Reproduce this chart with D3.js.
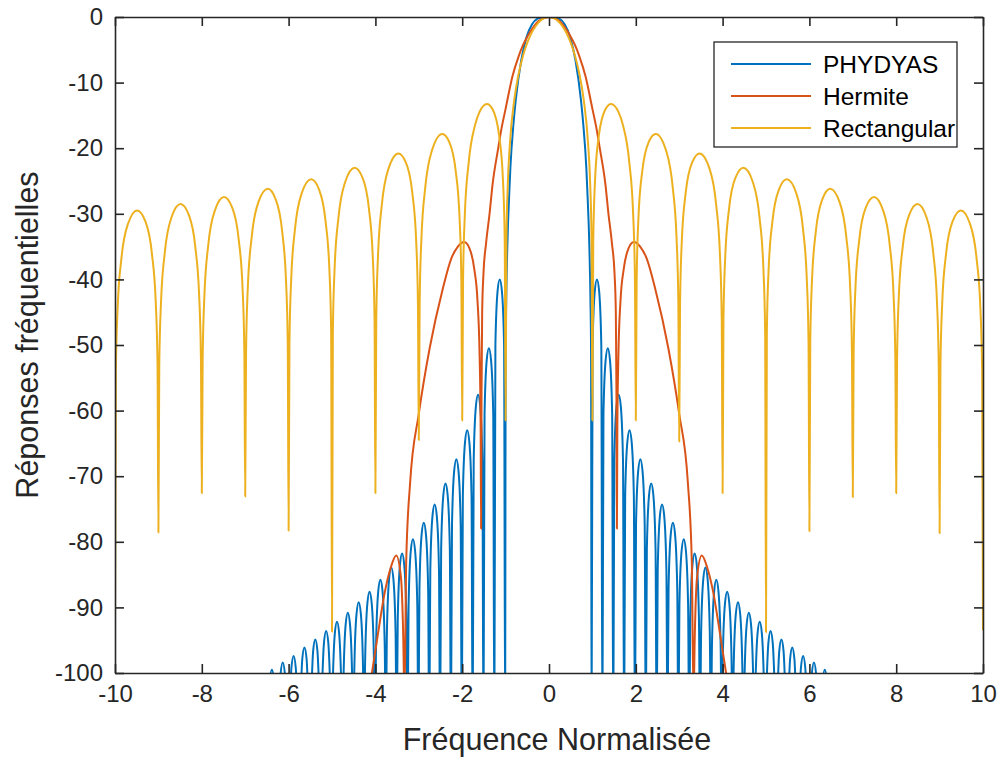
<!DOCTYPE html>
<html>
<head>
<meta charset="utf-8">
<script src="https://cdn.jsdelivr.net/npm/d3@7"></script>
<style>
  body { margin: 0; background: #fff; }
  text { font-family: "Liberation Sans", Arial, sans-serif; fill: #262626; }
</style>
</head>
<body>
<svg id="chart"></svg>
<script>
var xTicks = [-10, -8, -6, -4, -2, 0, 2, 4, 6, 8, 10];
var yTicks = [-100, -90, -80, -70, -60, -50, -40, -30, -20, -10, 0];
var seriesNames = ["PHYDYAS", "Hermite", "Rectangular"];

// [frequence normalisee, dB]; nulls go past the -100 floor
var phydyas = [
  [-6.51,-110],
  [-6.485,-109.5],[-6.435,-101.3],[-6.385,-99.5],[-6.335,-101.3],[-6.285,-109.5],[-6.26,-110],
  [-6.235,-108.4],[-6.185,-100.2],[-6.135,-98.4],[-6.085,-100.2],[-6.035,-108.4],[-6.01,-110],
  [-5.985,-107.4],[-5.935,-99.2],[-5.885,-97.4],[-5.835,-99.2],[-5.785,-107.4],[-5.76,-110],
  [-5.735,-106.1],[-5.685,-97.9],[-5.635,-96.1],[-5.585,-97.9],[-5.535,-106.1],[-5.51,-110],
  [-5.485,-104.9],[-5.435,-96.7],[-5.385,-94.9],[-5.335,-96.7],[-5.285,-104.9],[-5.26,-110],
  [-5.235,-103.6],[-5.185,-95.4],[-5.135,-93.6],[-5.085,-95.4],[-5.035,-103.6],[-5.01,-110],
  [-4.985,-102.2],[-4.935,-94.0],[-4.885,-92.2],[-4.835,-94.0],[-4.785,-102.2],[-4.76,-110],
  [-4.735,-100.8],[-4.685,-92.6],[-4.635,-90.8],[-4.585,-92.6],[-4.535,-100.8],[-4.51,-110],
  [-4.485,-99.2],[-4.435,-91.0],[-4.385,-89.2],[-4.335,-91.0],[-4.285,-99.2],[-4.26,-110],
  [-4.235,-97.6],[-4.185,-89.4],[-4.135,-87.6],[-4.085,-89.4],[-4.035,-97.6],[-4.01,-110],
  [-3.985,-95.8],[-3.935,-87.6],[-3.885,-85.8],[-3.835,-87.6],[-3.785,-95.8],[-3.76,-110],
  [-3.735,-93.9],[-3.685,-85.7],[-3.635,-83.9],[-3.585,-85.7],[-3.535,-93.9],[-3.51,-110],
  [-3.485,-91.8],[-3.435,-83.6],[-3.385,-81.8],[-3.335,-83.6],[-3.285,-91.8],[-3.26,-110],
  [-3.235,-89.6],[-3.185,-81.4],[-3.135,-79.6],[-3.085,-81.4],[-3.035,-89.6],[-3.01,-110],
  [-2.985,-87.1],[-2.935,-78.9],[-2.885,-77.1],[-2.835,-78.9],[-2.785,-87.1],[-2.76,-110],
  [-2.735,-84.3],[-2.685,-76.1],[-2.635,-74.3],[-2.585,-76.1],[-2.535,-84.3],[-2.51,-110],
  [-2.485,-81.1],[-2.435,-72.9],[-2.385,-71.1],[-2.335,-72.9],[-2.285,-81.1],[-2.26,-110],
  [-2.235,-77.4],[-2.185,-69.2],[-2.135,-67.4],[-2.085,-69.2],[-2.035,-77.4],[-2.01,-110],
  [-1.985,-73.0],[-1.935,-64.8],[-1.885,-63.0],[-1.835,-64.8],[-1.785,-73.0],[-1.76,-110],
  [-1.735,-67.6],[-1.685,-59.4],[-1.635,-57.6],[-1.585,-59.4],[-1.535,-67.6],[-1.51,-110],
  [-1.485,-60.5],[-1.435,-52.3],[-1.385,-50.5],[-1.335,-52.3],[-1.285,-60.5],[-1.26,-110],
  [-1.235,-50.0],[-1.185,-41.8],[-1.135,-40.0],[-1.085,-41.8],[-1.035,-50.0],[-1.01,-110],
  [-1.0,-52],[-0.985,-43],[-0.96,-35],[-0.91,-26],[-0.89,-23],[-0.815,-16],[-0.765,-12.6],
  [-0.64,-6.6],[-0.515,-3.0],[-0.39,-1.1],[-0.265,-0.25],[-0.14,-0.02],[-0.015,0],
  [0.11,-0.02],[0.235,-0.25],[0.36,-1.1],[0.485,-3.0],[0.61,-6.6],[0.735,-12.6],
  [0.785,-16],[0.86,-23],[0.88,-26],[0.93,-35],[0.955,-43],[0.97,-52],[0.98,-110],
  [1.005,-50.0],[1.055,-41.8],[1.105,-40.0],[1.155,-41.8],[1.205,-50.0],[1.23,-110],
  [1.255,-60.5],[1.305,-52.3],[1.355,-50.5],[1.405,-52.3],[1.455,-60.5],[1.48,-110],
  [1.505,-67.6],[1.555,-59.4],[1.605,-57.6],[1.655,-59.4],[1.705,-67.6],[1.73,-110],
  [1.755,-73.0],[1.805,-64.8],[1.855,-63.0],[1.905,-64.8],[1.955,-73.0],[1.98,-110],
  [2.005,-77.4],[2.055,-69.2],[2.105,-67.4],[2.155,-69.2],[2.205,-77.4],[2.23,-110],
  [2.255,-81.1],[2.305,-72.9],[2.355,-71.1],[2.405,-72.9],[2.455,-81.1],[2.48,-110],
  [2.505,-84.3],[2.555,-76.1],[2.605,-74.3],[2.655,-76.1],[2.705,-84.3],[2.73,-110],
  [2.755,-87.1],[2.805,-78.9],[2.855,-77.1],[2.905,-78.9],[2.955,-87.1],[2.98,-110],
  [3.005,-89.6],[3.055,-81.4],[3.105,-79.6],[3.155,-81.4],[3.205,-89.6],[3.23,-110],
  [3.255,-91.8],[3.305,-83.6],[3.355,-81.8],[3.405,-83.6],[3.455,-91.8],[3.48,-110],
  [3.505,-93.9],[3.555,-85.7],[3.605,-83.9],[3.655,-85.7],[3.705,-93.9],[3.73,-110],
  [3.755,-95.8],[3.805,-87.6],[3.855,-85.8],[3.905,-87.6],[3.955,-95.8],[3.98,-110],
  [4.005,-97.6],[4.055,-89.4],[4.105,-87.6],[4.155,-89.4],[4.205,-97.6],[4.23,-110],
  [4.255,-99.2],[4.305,-91.0],[4.355,-89.2],[4.405,-91.0],[4.455,-99.2],[4.48,-110],
  [4.505,-100.8],[4.555,-92.6],[4.605,-90.8],[4.655,-92.6],[4.705,-100.8],[4.73,-110],
  [4.755,-102.2],[4.805,-94.0],[4.855,-92.2],[4.905,-94.0],[4.955,-102.2],[4.98,-110],
  [5.005,-103.6],[5.055,-95.4],[5.105,-93.6],[5.155,-95.4],[5.205,-103.6],[5.23,-110],
  [5.255,-104.9],[5.305,-96.7],[5.355,-94.9],[5.405,-96.7],[5.455,-104.9],[5.48,-110],
  [5.505,-106.1],[5.555,-97.9],[5.605,-96.1],[5.655,-97.9],[5.705,-106.1],[5.73,-110],
  [5.755,-107.4],[5.805,-99.2],[5.855,-97.4],[5.905,-99.2],[5.955,-107.4],[5.98,-110],
  [6.005,-108.4],[6.055,-100.2],[6.105,-98.4],[6.155,-100.2],[6.205,-108.4],[6.23,-110],
  [6.255,-109.5],[6.305,-101.3],[6.355,-99.5],[6.405,-101.3],[6.455,-109.5],[6.48,-110]
];

var hermite = [
  [-4.15,-103],[-4.08,-100],[-3.94,-94.0],[-3.79,-87.9],[-3.64,-83.8],[-3.52,-82.1],
  [-3.41,-85.5],[-3.36,-94],[-3.33,-104],[-3.29,-83.0],[-3.2,-71.0],[-3.0,-60.5],
  [-2.75,-50.5],[-2.45,-41.5],[-2.25,-36.8],[-2.1,-35.0],[-1.955,-34.3],[-1.83,-35.3],
  [-1.72,-38.5],[-1.65,-43.0],[-1.6,-51.3],[-1.575,-62.5],[-1.565,-78],[-1.555,-58],
  [-1.54,-45.0],[-1.51,-39.1],[-1.45,-34.5],[-1.37,-30.0],[-1.3,-25.5],[-1.17,-20.0],
  [-1.1,-17.2],[-1.0,-14.0],[-0.84,-9.0],[-0.7,-6.0],[-0.6,-4.3],[-0.5,-3.0],
  [-0.4,-1.9],[-0.3,-1.0],[-0.2,-0.45],[0,0],
  [0.2,-0.45],[0.3,-1.0],[0.4,-1.9],[0.5,-3.0],[0.6,-4.3],[0.7,-6.0],[0.84,-9.0],
  [1.0,-14.0],[1.1,-17.2],[1.17,-20.0],[1.3,-25.5],[1.37,-30.0],[1.45,-34.5],
  [1.51,-39.1],[1.54,-45.0],[1.555,-58],[1.565,-78],[1.575,-62.5],[1.6,-51.3],
  [1.65,-43.0],[1.72,-38.5],[1.83,-35.3],[1.955,-34.3],[2.1,-35.0],[2.25,-36.8],
  [2.45,-41.5],[2.75,-50.5],[3.0,-60.5],[3.2,-71.0],[3.29,-83.0],[3.33,-104],
  [3.36,-94],[3.41,-85.5],[3.52,-82.1],[3.64,-83.8],[3.79,-87.9],[3.94,-94.0],
  [4.08,-100],[4.15,-103]
];

var rectangular = [
  [-10,-93.5],
  [-9.98,-53.97],[-9.94,-44.43],[-9.85,-36.67],[-9.7,-31.52],[-9.49,-29.49],[-9.3,-31.15],[-9.15,-36.03],[-9.06,-43.63],[-9.02,-53.09],[-9,-78.6],
  [-8.98,-53.05],[-8.94,-43.51],[-8.85,-35.74],[-8.7,-30.57],[-8.49,-28.52],[-8.3,-30.17],[-8.15,-35.03],[-8.06,-42.61],[-8.02,-52.07],[-8,-72.6],
  [-7.98,-52.02],[-7.94,-42.48],[-7.85,-34.70],[-7.7,-29.51],[-7.49,-27.43],[-7.3,-29.05],[-7.15,-33.89],[-7.06,-41.46],[-7.02,-50.91],[-7,-73.1],
  [-6.98,-50.86],[-6.94,-41.31],[-6.85,-33.52],[-6.7,-28.30],[-6.48,-26.19],[-6.3,-27.77],[-6.15,-32.58],[-6.06,-40.13],[-6.02,-49.58],[-6,-78.3],
  [-5.98,-49.52],[-5.94,-39.96],[-5.85,-32.15],[-5.7,-26.90],[-5.48,-24.74],[-5.3,-26.27],[-5.15,-31.04],[-5.06,-38.57],[-5.02,-48.00],[-5,-93.7],
  [-4.98,-47.93],[-4.94,-38.36],[-4.85,-30.52],[-4.7,-25.23],[-4.48,-22.99],[-4.3,-24.45],[-4.15,-29.16],[-4.06,-36.65],[-4.02,-46.07],[-4,-72.6],
  [-3.98,-45.98],[-3.94,-36.39],[-3.85,-28.51],[-3.7,-23.15],[-3.47,-20.79],[-3.3,-22.15],[-3.15,-26.77],[-3.06,-34.20],[-3.02,-43.58],[-3,-64.5],
  [-2.98,-43.47],[-2.94,-33.85],[-2.85,-25.90],[-2.7,-20.41],[-2.46,-17.83],[-2.3,-19.02],[-2.15,-23.45],[-2.06,-30.76],[-2.02,-40.09],[-2,-61.5],
  [-1.98,-39.92],[-1.94,-30.24],[-1.85,-22.15],[-1.7,-16.39],[-1.6,-14.47],[-1.43,-13.26],[-1.3,-14.06],[-1.15,-18.02],[-1.06,-24.99],[-1.02,-34.15],[-1,-61.5],
  [-0.98,-33.8],[-0.95,-25.6],[-0.9,-19.24],[-0.8,-12.62],[-0.7,-8.68],[-0.6,-5.94],[-0.5,-3.92],[-0.4,-2.42],[-0.3,-1.33],[-0.2,-0.58],[-0.1,-0.14],[0,0],
  [0.1,-0.14],[0.2,-0.58],[0.3,-1.33],[0.4,-2.42],[0.5,-3.92],[0.6,-5.94],[0.7,-8.68],[0.8,-12.62],[0.9,-19.24],[0.95,-25.6],[0.98,-33.8],[1,-61.5],
  [1.02,-34.15],[1.06,-24.99],[1.15,-18.02],[1.3,-14.06],[1.43,-13.26],[1.6,-14.47],[1.7,-16.39],[1.85,-22.15],[1.94,-30.24],[1.98,-39.92],[2,-61.5],
  [2.02,-40.09],[2.06,-30.76],[2.15,-23.45],[2.3,-19.02],[2.46,-17.83],[2.7,-20.41],[2.85,-25.90],[2.94,-33.85],[2.98,-43.47],[3,-64.7],
  [3.02,-43.58],[3.06,-34.20],[3.15,-26.77],[3.3,-22.15],[3.47,-20.79],[3.7,-23.15],[3.85,-28.51],[3.94,-36.39],[3.98,-45.98],[4,-72.6],
  [4.02,-46.07],[4.06,-36.65],[4.15,-29.16],[4.3,-24.45],[4.48,-22.99],[4.7,-25.23],[4.85,-30.52],[4.94,-38.36],[4.98,-47.93],[5,-93.8],
  [5.02,-48.00],[5.06,-38.57],[5.15,-31.04],[5.3,-26.27],[5.48,-24.74],[5.7,-26.90],[5.85,-32.15],[5.94,-39.96],[5.98,-49.52],[6,-78.4],
  [6.02,-49.58],[6.06,-40.13],[6.15,-32.58],[6.3,-27.77],[6.48,-26.19],[6.7,-28.30],[6.85,-33.52],[6.94,-41.31],[6.98,-50.86],[7,-73.2],
  [7.02,-50.91],[7.06,-41.46],[7.15,-33.89],[7.3,-29.05],[7.49,-27.43],[7.7,-29.51],[7.85,-34.70],[7.94,-42.48],[7.98,-52.02],[8,-72.6],
  [8.02,-52.07],[8.06,-42.61],[8.15,-35.03],[8.3,-30.17],[8.49,-28.52],[8.7,-30.57],[8.85,-35.74],[8.94,-43.51],[8.98,-53.05],[9,-78.7],
  [9.02,-53.09],[9.06,-43.63],[9.15,-36.03],[9.3,-31.15],[9.49,-29.49],[9.7,-31.52],[9.85,-36.67],[9.94,-44.43],[9.98,-53.97],[10,-93.5]
];

(function () {
  var W = 1004, H = 757;
  var margin = {top: 17, right: 21, bottom: 84, left: 115};
  var width = W - margin.left - margin.right,
      height = H - margin.top - margin.bottom;
  var axisColor = "#262626";
  var colors = {PHYDYAS: "#0072BD", Hermite: "#D95319", Rectangular: "#EDB120"};

  var svg = d3.select("#chart").attr("width", W).attr("height", H);
  var g = svg.append("g").attr("transform", "translate(" + margin.left + "," + margin.top + ")");

  var x = d3.scaleLinear().domain([-10, 10]).range([0, width]);
  var y = d3.scaleLinear().domain([-100, 0]).range([height, 0]);

  svg.append("defs").append("clipPath").attr("id", "plotclip")
    .append("rect").attr("x", 0).attr("y", 0).attr("width", width).attr("height", height);

  var line = d3.line()
      .curve(d3.curveMonotoneX)
      .x(function(d) { return x(d[0]); })
      .y(function(d) { return y(d[1]); });

  var series = [
    {name: seriesNames[0], values: phydyas},
    {name: seriesNames[1], values: hermite},
    {name: seriesNames[2], values: rectangular}
  ];

  g.append("g").attr("clip-path", "url(#plotclip)")
    .selectAll("path")
    .data(series)
    .enter().append("path")
    .attr("d", function(d) { return line(d.values); })
    .style("fill", "none")
    .style("stroke", function(d) { return colors[d.name]; })
    .style("stroke-width", 2)
    .style("stroke-linejoin", "round");

  // box axes, ticks inward on all sides; plain hyphen for negatives like the original
  var plain = function(d) { return String(d); };

  function styleAxis(sel) {
    sel.select(".domain").attr("stroke", axisColor).attr("stroke-width", 1.6);
    sel.selectAll(".tick line").attr("stroke", axisColor).attr("stroke-width", 1.6);
    sel.selectAll("text").attr("fill", axisColor).style("font-size", "24px")
      .style("font-family", "'Liberation Sans', Arial, sans-serif");
  }

  g.append("g")
    .attr("transform", "translate(0," + height + ")")
    .call(d3.axisBottom(x).tickValues(xTicks).tickFormat(plain).tickSizeInner(-9).tickSizeOuter(0).tickPadding(12))
    .call(styleAxis);

  g.append("g")
    .call(d3.axisLeft(y).tickValues(yTicks).tickFormat(plain).tickSizeInner(-9).tickSizeOuter(0).tickPadding(12))
    .call(styleAxis);

  g.append("g")
    .call(d3.axisTop(x).tickValues(xTicks).tickSizeInner(-9).tickSizeOuter(0).tickFormat(""))
    .call(styleAxis);

  g.append("g")
    .attr("transform", "translate(" + width + ",0)")
    .call(d3.axisRight(y).tickValues(yTicks).tickSizeInner(-9).tickSizeOuter(0).tickFormat(""))
    .call(styleAxis);

  svg.append("text")
    .attr("x", 557).attr("y", 750)
    .style("text-anchor", "middle")
    .style("font-size", "30.5px")
    .text("Fréquence Normalisée");

  svg.append("text")
    .attr("transform", "translate(38,335) rotate(-90)")
    .style("text-anchor", "middle")
    .style("font-size", "30.5px")
    .text("Réponses fréquentielles");

  // legend
  var leg = svg.append("g").attr("transform", "translate(714,42)");
  leg.append("rect")
    .attr("width", 243).attr("height", 105)
    .style("fill", "#fff")
    .style("stroke", axisColor)
    .style("stroke-width", 1.3);

  var rows = leg.selectAll(".row")
      .data(series)
      .enter().append("g")
      .attr("class", "row")
      .attr("transform", function(d, i) { return "translate(0," + (22 + i * 32) + ")"; });

  rows.append("line")
    .attr("x1", 17).attr("x2", 97)
    .style("stroke", function(d) { return colors[d.name]; })
    .style("stroke-width", 2);

  rows.append("text")
    .attr("x", 109).attr("dy", "0.35em")
    .style("font-size", "24.5px")
    .style("fill", "#000")
    .text(function(d) { return d.name; });
})();
</script>
</body>
</html>
